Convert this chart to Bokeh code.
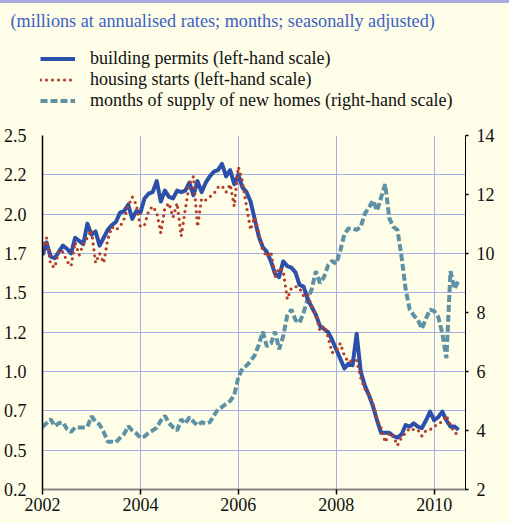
import numpy as np
from bokeh.plotting import figure
from bokeh.layouts import column
from bokeh.models import (ColumnDataSource, Range1d, LinearAxis, FixedTicker, Legend,
                          LegendItem, Label, GlobalInlineStyleSheet)
from bokeh.embed import file_html
from bokeh.resources import INLINE

# ---------------- data (monthly, Jan 2002 - Jul 2010) ----------------
start_year = 2002
permits = [1.74, 1.82, 1.73, 1.72, 1.76, 1.80, 1.78, 1.75, 1.85, 1.83, 1.81, 1.94,
           1.87, 1.89, 1.80, 1.85, 1.90, 1.93, 1.95, 2.01, 2.02, 2.06, 1.97, 2.02,
           2.01, 2.10, 2.13, 2.14, 2.21, 2.08, 2.15, 2.11, 2.10, 2.15, 2.14, 2.15,
           2.20, 2.12, 2.21, 2.14, 2.20, 2.24, 2.27, 2.28, 2.32, 2.24, 2.28, 2.19,
           2.25, 2.17, 2.14, 2.08, 1.97, 1.86, 1.79, 1.76, 1.70, 1.62, 1.60, 1.70,
           1.67, 1.66, 1.63, 1.55, 1.54, 1.46, 1.41, 1.36, 1.29, 1.27, 1.25, 1.20,
           1.14, 1.08, 1.02, 1.05, 1.04, 1.24, 1.00, 0.91, 0.85, 0.78, 0.69, 0.61,
           0.61, 0.61, 0.59, 0.58, 0.60, 0.66, 0.65, 0.67, 0.65, 0.64, 0.69, 0.745,
           0.69, 0.71, 0.745, 0.69, 0.65, 0.65, 0.63]
starts = [1.78, 1.85, 1.68, 1.66, 1.77, 1.76, 1.70, 1.67, 1.82, 1.74, 1.81, 1.85,
          1.90, 1.69, 1.75, 1.69, 1.84, 1.92, 1.90, 1.92, 1.97, 2.05, 2.11, 2.06,
          1.92, 1.93, 2.02, 2.05, 2.01, 1.88, 2.04, 2.07, 1.98, 2.07, 1.86, 2.03,
          2.19, 2.24, 1.92, 2.10, 2.09, 2.11, 2.13, 2.17, 2.18, 2.14, 2.19, 2.05,
          2.30, 2.21, 2.05, 1.90, 1.98, 1.88, 1.77, 1.73, 1.76, 1.60, 1.66, 1.64,
          1.46, 1.53, 1.54, 1.53, 1.48, 1.49, 1.41, 1.36, 1.26, 1.29, 1.22, 1.12,
          1.13, 1.18, 1.10, 1.06, 1.07, 1.07, 0.96, 0.89, 0.85, 0.80, 0.70, 0.64,
          0.55, 0.61, 0.59, 0.53, 0.58, 0.61, 0.64, 0.63, 0.63, 0.59, 0.625, 0.63,
          0.65, 0.67, 0.68, 0.72, 0.66, 0.61, 0.60]
supply = [4.12, 4.25, 4.38, 4.15, 4.25, 4.28, 4.05, 3.95, 4.10, 4.10, 4.10, 4.12,
          4.48, 4.30, 4.20, 3.95, 3.62, 3.62, 3.60, 3.75, 3.88, 4.15, 4.00, 3.90,
          3.75, 3.80, 3.92, 4.00, 4.10, 4.34, 4.50, 4.25, 4.11, 4.00, 4.38, 4.23,
          4.45, 4.30, 4.17, 4.28, 4.23, 4.28, 4.50, 4.72, 4.80, 4.90, 5.00, 5.20,
          5.80, 6.10, 6.20, 6.35, 6.55, 6.90, 7.35, 6.85, 6.95, 7.35, 6.75, 7.20,
          7.90, 8.10, 7.75, 7.65, 8.00, 8.45, 8.80, 9.40, 9.00, 9.20, 9.60, 9.75,
          9.65, 10.10, 10.65, 10.85, 10.85, 10.80, 10.90, 11.35, 11.55, 11.80, 11.45, 11.90,
          12.35, 11.20, 10.90, 10.80, 9.90, 8.80, 8.10, 7.90, 7.75, 7.45, 7.80, 8.10,
          8.05, 7.85, 7.30, 6.45, 9.40, 8.80, 9.10]

x_ticks = [2002, 2004, 2006, 2008, 2010]
left_ticks = [0.25, 0.5, 0.75, 1.0, 1.25, 1.5, 1.75, 2.0, 2.25, 2.5]
left_tick_labels = ["0.2", "0.5", "0.7", "1.0", "1.2", "1.5", "1.7", "2.0", "2.2", "2.5"]
right_ticks = [2, 4, 6, 8, 10, 12, 14]

subtitle = "(millions at annualised rates; months; seasonally adjusted)"
labels = ["building permits (left-hand scale)",
          "housing starts (left-hand scale)",
          "months of supply of new homes (right-hand scale)"]

# ---------------- styling ----------------
BG = "#fdfde8"
GRID = "#a6ace6"
BLUE = "#2b4fab"
RED = "#b53d2a"
TEAL = "#5d91a3"
FONT = "Liberation Serif"
FS = "18px"

BLUE_STYLE = dict(line_color=BLUE, line_width=4, line_join="round")
RED_STYLE = dict(line_color=RED, line_width=3.2, line_dash="0 6", line_cap="round")
TEAL_STYLE = dict(line_color=TEAL, line_width=4, line_dash="7 3")

# ---------------- header (subtitle + legend) ----------------
HEAD_H = 120
head = figure(width=509, height=HEAD_H, x_range=Range1d(0, 509), y_range=Range1d(HEAD_H, 0),
              output_backend="svg", toolbar_location=None,
              x_axis_location=None, y_axis_location=None,
              min_border_left=0, min_border_right=0, min_border_top=0, min_border_bottom=0,
              background_fill_color=BG, border_fill_color=BG, outline_line_color=None)
head.frame_align = False
head.xgrid.visible = False
head.ygrid.visible = False
head.stylesheets = [GlobalInlineStyleSheet(
    css="html,body{margin:0;padding:0;background:%s;overflow:hidden;}"
        "body{border-top:3px solid #a9acdd;}" % BG)]

# legend-only renderers (no visible data)
dummy = ColumnDataSource(dict(x=[np.nan], y=[np.nan]))
h_per = head.line("x", "y", source=dummy, **BLUE_STYLE)
h_sta = head.line("x", "y", source=dummy, **RED_STYLE)
h_sup = head.line("x", "y", source=dummy, **TEAL_STYLE)

head.add_layout(Label(x=10, y=17, text=subtitle, text_font=FONT, text_font_size="18.2px",
                      text_color="#3d5fc4", text_baseline="middle", text_align="left"))

legend = Legend(items=[LegendItem(label=labels[0], renderers=[h_per]),
                       LegendItem(label=labels[1], renderers=[h_sta]),
                       LegendItem(label=labels[2], renderers=[h_sup])],
                location=(40, 12), orientation="vertical",
                background_fill_alpha=0, border_line_color=None,
                padding=0, margin=0, spacing=0,
                glyph_width=35, glyph_height=21, label_height=21, label_standoff=15,
                label_text_font=FONT, label_text_font_size=FS,
                label_text_color="#111111", label_text_baseline="middle")
head.add_layout(legend)

# ---------------- main chart ----------------
n = len(permits)
dates = start_year + np.arange(n) / 12.0
src = ColumnDataSource(dict(date=dates, permits=permits, starts=starts, supply=supply))

p = figure(frame_width=423, frame_height=354,
           x_range=Range1d(2002, 2010.64), y_range=Range1d(0.25, 2.5),
           output_backend="svg", toolbar_location=None,
           min_border_left=42, min_border_right=44, min_border_top=12, min_border_bottom=34,
           background_fill_color=BG, border_fill_color=BG, outline_line_color=None)
p.frame_align = False
p.extra_y_ranges = {"right": Range1d(2, 14)}

p.xgrid.ticker = FixedTicker(ticks=x_ticks)
p.ygrid.ticker = FixedTicker(ticks=left_ticks)
p.xgrid.grid_line_color = GRID
p.ygrid.grid_line_color = GRID

xa = p.xaxis[0]
xa.ticker = FixedTicker(ticks=x_ticks)
xa.axis_line_color = "#858585"
xa.axis_line_width = 2
xa.major_tick_line_color = "black"
xa.major_tick_line_width = 1.5
xa.major_tick_out = 5
xa.major_tick_in = 0
xa.minor_tick_line_color = None
xa.major_label_standoff = 3
xa.major_label_text_font = FONT
xa.major_label_text_font_size = FS
xa.major_label_text_color = "#111111"

ya = p.yaxis[0]
ya.ticker = FixedTicker(ticks=left_ticks)
ya.major_label_overrides = {t: l for t, l in zip(left_ticks, left_tick_labels)}
ya.axis_line_color = "black"
ya.axis_line_width = 1.5
ya.major_tick_line_color = None
ya.minor_tick_line_color = None
ya.major_label_standoff = 10
ya.major_label_text_font = FONT
ya.major_label_text_font_size = FS
ya.major_label_text_color = "#111111"

ra = LinearAxis(y_range_name="right", ticker=FixedTicker(ticks=right_ticks))
ra.axis_line_color = "black"
ra.axis_line_width = 1
ra.major_tick_line_color = "black"
ra.major_tick_line_width = 1.5
ra.major_tick_out = 3
ra.major_tick_in = 0
ra.minor_tick_line_color = None
ra.major_label_standoff = 8
ra.major_label_text_font = FONT
ra.major_label_text_font_size = FS
ra.major_label_text_color = "#111111"
p.add_layout(ra, "right")

p.line("date", "supply", source=src, y_range_name="right", **TEAL_STYLE)
p.line("date", "permits", source=src, **BLUE_STYLE)
p.line("date", "starts", source=src, **RED_STYLE)

layout = column(head, p, spacing=0)
open("out.html", "w").write(file_html(layout, INLINE))
